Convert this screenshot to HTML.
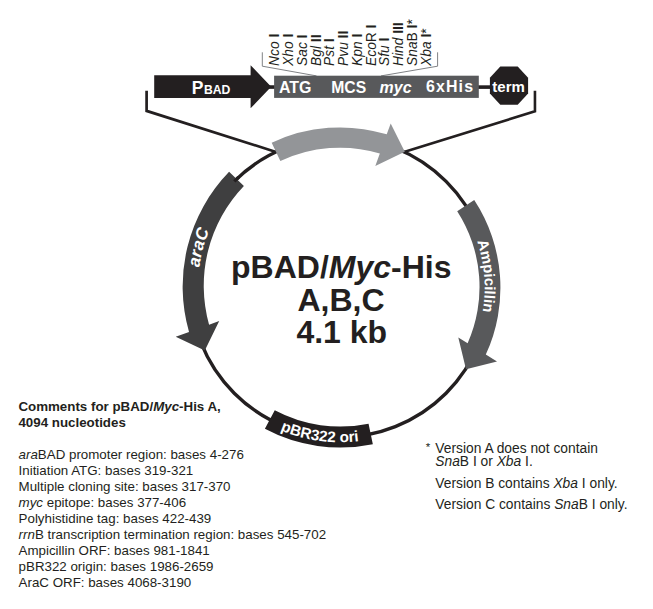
<!DOCTYPE html>
<html lang="en">
<head>
<meta charset="utf-8">
<title>pBAD/Myc-His A,B,C vector map</title>
<style>
html,body{margin:0;padding:0;background:#fff;}
body{width:653px;height:609px;overflow:hidden;}
svg{display:block;}
</style>
</head>
<body>
<svg width="653" height="609" viewBox="0 0 653 609">
<rect width="653" height="609" fill="#fff"/>
<ellipse cx="340.15" cy="287.3" rx="149.80" ry="149.8" fill="none" stroke="#231f20" stroke-width="3.4"/>
<path d="M146.6 90.8 V110.9 L276.01 151.93" fill="none" stroke="#231f20" stroke-width="2.7" stroke-linejoin="miter"/>
<path d="M534.95 90.8 V111.3 L404.80 151.80" fill="none" stroke="#231f20" stroke-width="2.6" stroke-linejoin="miter"/>
<path d="M271.67 142.75 A159.95 159.95 0 0 1 386.74 134.36 L390.70 123.40 L404.80 151.80 L375.30 166.00 L379.84 153.45 A139.65 139.65 0 0 0 280.36 161.10 Z" fill="#939598"/>
<path d="M229.10 171.80 A164.65 164.65 0 0 0 189.03 331.89 L175.70 336.70 L204.80 350.40 L219.20 321.00 L209.07 324.66 A144.35 144.35 0 0 1 243.90 185.90 Z" fill="#3f3f40"/>
<path d="M474.23 200.08 A159.95 159.95 0 0 1 485.80 354.62 L497.00 361.60 L466.00 369.20 L458.30 337.50 L467.63 343.31 A139.65 139.65 0 0 0 457.21 211.15 Z" fill="#58595b"/>
<path d="M372.84 444.23 A160.30 160.30 0 0 1 264.91 428.85 L274.77 410.30 A139.30 139.30 0 0 0 368.55 423.67 Z" fill="#231f20"/>
<path d="M238.63 177.14 L234.3 181.4" stroke="#231f20" stroke-width="3.3" fill="none"/>
<defs>
<path id="pAra" d="M199.27 267.51 A148.50 148.50 0 0 1 241.43 182.40"/>
<path id="pAmp" d="M477.18 241.45 A144.50 144.50 0 0 1 458.52 370.18"/>
<path id="pOri" d="M251.25 414.27 A155.00 155.00 0 0 0 391.38 433.59"/>
</defs>
<g font-family="'Liberation Sans', Arial, Helvetica, sans-serif" font-weight="bold" fill="#fff">
<text font-size="17" font-style="italic" letter-spacing="0.3"><textPath href="#pAra" startOffset="0">araC</textPath></text>
<text font-size="14.9"><textPath href="#pAmp" startOffset="0">Ampicillin</textPath></text>
<text font-size="15.2" text-anchor="middle"><textPath href="#pOri" startOffset="50%">pBR322 ori</textPath></text>
</g>
<path d="M154.2 75.2 H250.6 V65.2 L271.2 86.8 L250.6 108.3 V97.9 H154.2 Z" fill="#231f20"/>
<path d="M268 87.05 H276" stroke="#231f20" stroke-width="3.6" fill="none"/>
<path d="M478 87.1 H492" stroke="#231f20" stroke-width="3.6" fill="none"/>
<path d="M262.3 52.3 V66.2 L316.5 75.9 M437.6 52.3 V66.2 L381 75.9" fill="none" stroke="#808285" stroke-width="1"/>
<rect x="274.1" y="75.7" width="204.7" height="22.2" fill="#58595b"/>
<polygon points="500.30,66.60 517.70,66.60 528.10,77.80 528.10,93.60 517.70,104.80 500.30,104.80 489.90,93.60 489.90,77.80" fill="#231f20"/>
<g font-family="'Liberation Sans', Arial, Helvetica, sans-serif" font-weight="bold" fill="#fff">
<text transform="translate(191.70 94.10) scale(0.960 1)" font-size="18.2">P</text>
<text transform="translate(203.90 94.10) scale(0.910 1)" font-size="13.4">BAD</text>
<text transform="translate(278.90 93.10) scale(0.950 1)" font-size="16.8">ATG</text>
<text transform="translate(331.30 93.10) scale(0.935 1)" font-size="16.8">MCS</text>
<text transform="translate(379.60 93.10) scale(0.950 1)" font-size="16.8" font-style="italic">myc</text>
<text transform="translate(425.90 92.20) scale(0.950 1)" font-size="16.8" letter-spacing="1.2">6xHis</text>
<text transform="translate(492.30 92.00) scale(1.000 1)" font-size="15">term</text>
</g>
<g font-family="'Liberation Sans', Arial, Helvetica, sans-serif" font-size="14.8" fill="#231f20">
<text transform="translate(279.20 65.9) rotate(-90) scale(0.930 1)"><tspan font-style="italic">Nco</tspan> <tspan font-weight="bold">I</tspan></text>
<text transform="translate(292.98 65.9) rotate(-90) scale(0.930 1)"><tspan font-style="italic">Xho</tspan> <tspan font-weight="bold">I</tspan></text>
<text transform="translate(306.76 65.9) rotate(-90) scale(0.930 1)"><tspan font-style="italic">Sac</tspan> <tspan font-weight="bold">I</tspan></text>
<text transform="translate(320.54 65.9) rotate(-90) scale(0.930 1)"><tspan font-style="italic">Bgl</tspan> <tspan font-weight="bold">II</tspan></text>
<text transform="translate(334.32 65.9) rotate(-90) scale(0.930 1)"><tspan font-style="italic">Pst</tspan> <tspan font-weight="bold">I</tspan></text>
<text transform="translate(348.10 65.9) rotate(-90) scale(0.930 1)"><tspan font-style="italic">Pvu</tspan> <tspan font-weight="bold">II</tspan></text>
<text transform="translate(361.88 65.9) rotate(-90) scale(0.930 1)"><tspan font-style="italic">Kpn</tspan> <tspan font-weight="bold">I</tspan></text>
<text transform="translate(375.66 65.9) rotate(-90) scale(0.930 1)"><tspan font-style="italic">Eco</tspan>R <tspan font-weight="bold">I</tspan></text>
<text transform="translate(389.44 65.9) rotate(-90) scale(0.930 1)"><tspan font-style="italic">Sfu</tspan> <tspan font-weight="bold">I</tspan></text>
<text transform="translate(403.22 65.9) rotate(-90) scale(0.930 1)"><tspan font-style="italic">Hind</tspan> <tspan font-weight="bold">III</tspan></text>
<text transform="translate(417.00 65.9) rotate(-90) scale(0.930 1)"><tspan font-style="italic">Sna</tspan>B <tspan font-weight="bold">I</tspan>*</text>
<text transform="translate(430.78 65.9) rotate(-90) scale(0.930 1)"><tspan font-style="italic">Xba</tspan> <tspan font-weight="bold">I</tspan>*</text>
</g>
<g font-family="'Liberation Sans', Arial, Helvetica, sans-serif" font-weight="bold" fill="#231f20" font-size="32">
<text x="231.0" y="277.9">pBAD/<tspan font-style="italic">Myc</tspan>-His</text>
<text x="297.4" y="310.6">A,B,C</text>
<text x="296.4" y="342.7">4.1 kb</text>
</g>
<g font-family="'Liberation Sans', Arial, Helvetica, sans-serif" fill="#231f20">
<text x="18.4" y="411" font-size="13.33" font-weight="bold">Comments for pBAD/<tspan font-style="italic">Myc</tspan>-His A,</text>
<text x="18.4" y="427.1" font-size="13.33" font-weight="bold">4094 nucleotides</text>
<text x="18.6" y="459.10" font-size="13.33"><tspan font-style="italic">ara</tspan>BAD promoter region: bases 4-276</text>
<text x="18.6" y="475.10" font-size="13.33">Initiation ATG: bases 319-321</text>
<text x="18.6" y="491.10" font-size="13.33">Multiple cloning site: bases 317-370</text>
<text x="18.6" y="507.10" font-size="13.33"><tspan font-style="italic">myc</tspan> epitope: bases 377-406</text>
<text x="18.6" y="523.10" font-size="13.33">Polyhistidine tag: bases 422-439</text>
<text x="18.6" y="539.10" font-size="13.33"><tspan font-style="italic">rrn</tspan>B transcription termination region: bases 545-702</text>
<text x="18.6" y="555.10" font-size="13.33">Ampicillin ORF: bases 981-1841</text>
<text x="18.6" y="571.10" font-size="13.33">pBR322 origin: bases 1986-2659</text>
<text x="18.6" y="587.10" font-size="13.33">AraC ORF: bases 4068-3190</text>
<text x="425.8" y="451.0" font-size="11.5">*</text>
<text x="435.3" y="452.7" font-size="13.8">Version A does not contain</text>
<text x="435.3" y="466.1" font-size="13.8"><tspan font-style="italic">Sna</tspan>B I or <tspan font-style="italic">Xba</tspan> I.</text>
<text x="435.3" y="487.6" font-size="13.8">Version B contains <tspan font-style="italic">Xba</tspan> I only.</text>
<text x="435.3" y="508.8" font-size="13.8">Version C contains <tspan font-style="italic">Sna</tspan>B I only.</text>
</g>
</svg>
</body>
</html>
